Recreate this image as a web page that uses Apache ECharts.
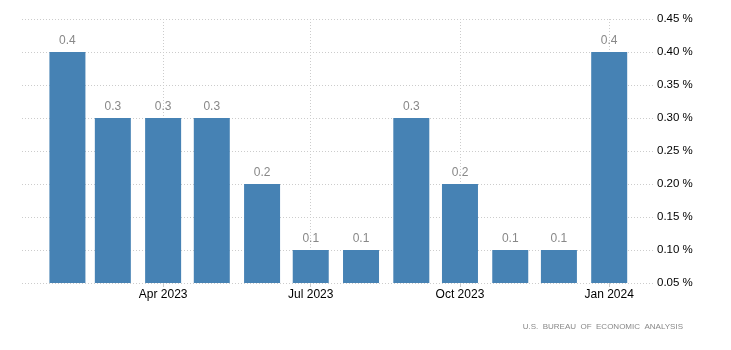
<!DOCTYPE html>
<html>
<head>
<meta charset="utf-8">
<script src="https://cdn.jsdelivr.net/npm/echarts@6/dist/echarts.min.js"></script>
<style>html,body{margin:0;padding:0;background:#fff}#c{width:731px;height:350px}</style>
</head>
<body>
<div id="c"></div>
<script>
var months = ['2023-02-01','2023-03-01','2023-04-01','2023-05-01','2023-06-01','2023-07-01','2023-08-01','2023-09-01','2023-10-01','2023-11-01','2023-12-01','2024-01-01'];
var values = [0.4,0.3,0.3,0.3,0.2,0.1,0.1,0.3,0.2,0.1,0.1,0.4];
var xTickDates = ['2023-04-01','2023-07-01','2023-10-01','2024-01-01'];
var yTicks = [0.05,0.10,0.15,0.20,0.25,0.30,0.35,0.40,0.45];
var sourceText = 'U.S.  BUREAU  OF  ECONOMIC  ANALYSIS';
var monthNames = ['Jan','Feb','Mar','Apr','May','Jun','Jul','Aug','Sep','Oct','Nov','Dec'];

function ts(s){var p=s.split('-');return new Date(+p[0],+p[1]-1,+p[2]).getTime();}
var chart = echarts.init(document.getElementById('c'), null, {renderer:'canvas'});
var data = months.map(function(m,i){ return [ts(m), values[i]]; });
var tickVals = xTickDates.map(ts);
chart.setOption({
  animation:false,
  grid:{left:22,right:78,top:19,bottom:67,containLabel:false},
  title:{text:sourceText,right:43,top:318,textStyle:{fontSize:8,color:'#888',fontWeight:'normal',fontFamily:'Liberation Sans, Arial, sans-serif'}},
  xAxis:{
    type:'value',
    min:ts('2023-01-04'),
    max:ts('2024-01-28'),
    scale:true,
    axisLine:{show:false},
    axisTick:{show:true,length:4,lineStyle:{color:'#ccc'},customValues:tickVals},
    splitLine:{show:true,lineStyle:{color:'#ccc',type:[1,2]}},
    axisLabel:{
      customValues:tickVals,
      color:'#000',fontSize:12,fontFamily:'Liberation Sans, Arial, sans-serif',margin:6,
      formatter:function(v){var d=new Date(v);return monthNames[d.getMonth()]+' '+d.getFullYear();}
    }
  },
  yAxis:{
    type:'value',position:'right',
    min:yTicks[0],max:yTicks[yTicks.length-1],interval:0.05,
    axisLine:{show:false},axisTick:{show:false},
    splitLine:{show:true,lineStyle:{color:'#ccc',type:[1,2]}},
    axisLabel:{color:'#000',fontSize:11.5,fontFamily:'Liberation Sans, Arial, sans-serif',margin:4,
      formatter:function(v){return v.toFixed(2)+' %';}}
  },
  series:[{
    type:'bar',data:data,barWidth:36,
    itemStyle:{color:'#4682b4'},
    label:{show:true,position:'top',distance:5,color:'#888',fontSize:12,fontFamily:'Liberation Sans, Arial, sans-serif',
      formatter:function(p){return String(p.value[1]);}}
  }]
});
</script>
</body>
</html>
